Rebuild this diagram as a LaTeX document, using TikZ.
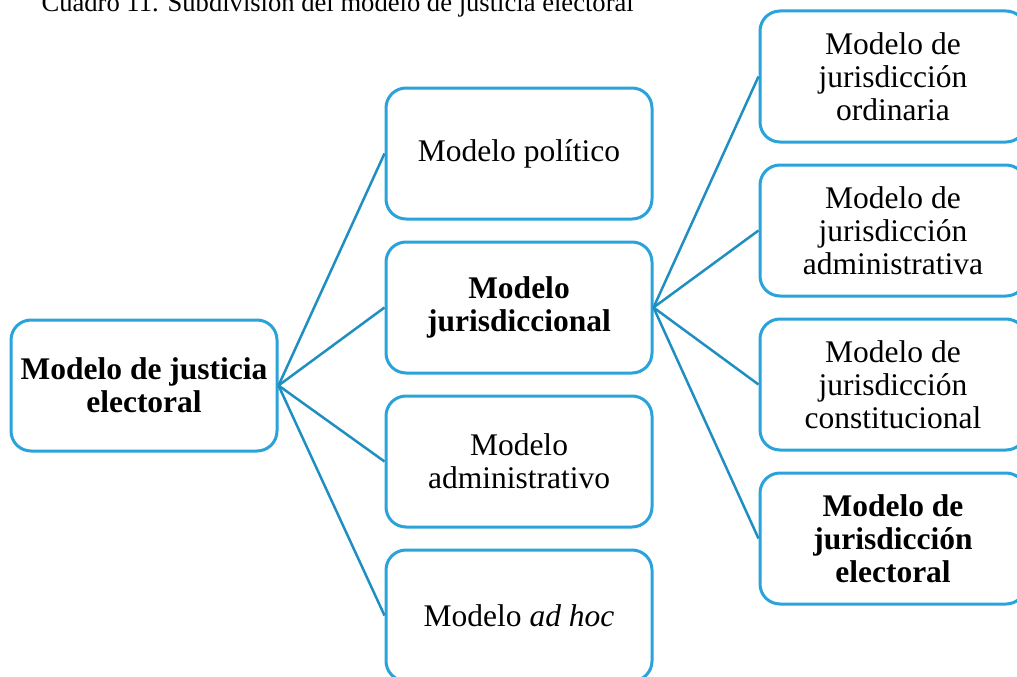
\documentclass[tikz,border=0pt]{standalone}
\usepackage{fontspec}
\setmainfont{Liberation Serif}
\definecolor{boxblue}{HTML}{29A3DA}
\definecolor{lineblue}{HTML}{1F8FC2}
\begin{document}
\begin{tikzpicture}[
  x=1pt,y=1pt,
  modbox/.style={draw=boxblue, line width=3pt, rounded corners=20pt,
    minimum width=266pt, minimum height=131pt, align=center,
    font=\fontsize{31.5}{33}\selectfont, inner sep=2pt},
  conn/.style={draw=lineblue, line width=2.5pt}
]
\useasboundingbox (0,0) rectangle (1017,-677);
\node[anchor=base west, font=\fontsize{26.6}{29}\selectfont] (cap) at (38,-11.5)
  {Cuadro 11. Subdivisión del modelo de justicia electoral};

\node[modbox] (root) at (144,-385.5) {\textbf{Modelo de justicia}\\\textbf{electoral}};

\node[modbox] (pol) at (519,-153.5) {\raisebox{-2pt}{Modelo político}};
\node[modbox] (jur) at (519,-307.5) {\textbf{Modelo}\\\textbf{jurisdiccional}};
\node[modbox] (adm) at (519,-461.5) {Modelo\\administrativo};
\node[modbox] (adh) at (519,-615.5) {\raisebox{-2pt}{Modelo \textit{ad hoc}}};

\node[modbox] (ord) at (893,-76.5) {Modelo de\\jurisdicción\\ordinaria};
\node[modbox] (jadm) at (893,-230.5) {Modelo de\\jurisdicción\\administrativa};
\node[modbox] (con) at (893,-384.5) {Modelo de\\jurisdicción\\constitucional};
\node[modbox] (ele) at (893,-538.5) {\textbf{Modelo de}\\\textbf{jurisdicción}\\\textbf{electoral}};

\foreach \t in {pol,jur,adm,adh} \draw[conn] (root.east) -- (\t.west);
\foreach \t in {ord,jadm,con,ele} \draw[conn] (jur.east) -- (\t.west);
\end{tikzpicture}
\end{document}
